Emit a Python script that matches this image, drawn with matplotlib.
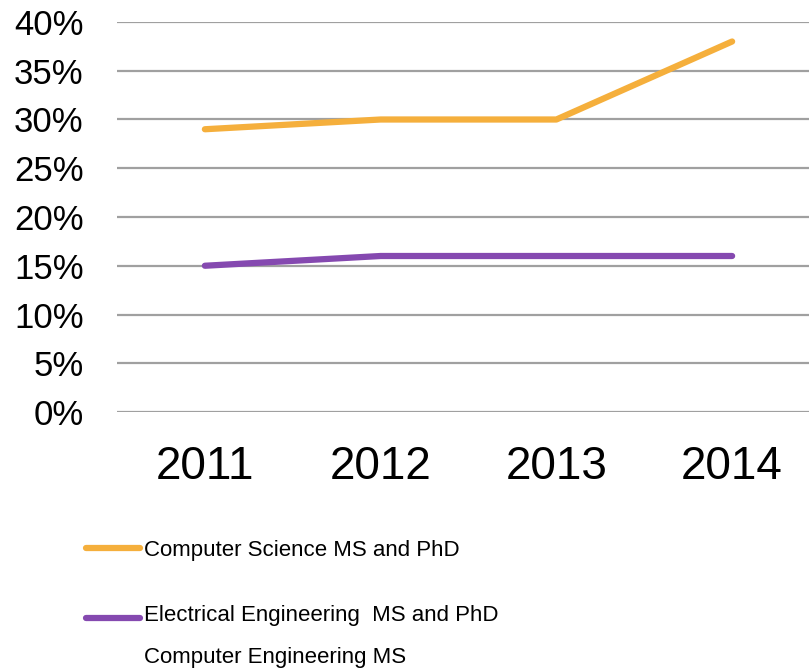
import matplotlib.pyplot as plt

plt.rcParams['font.family'] = ['Liberation Sans', 'DejaVu Sans']

years = ['2011', '2012', '2013', '2014']
cs_share = [0.29, 0.30, 0.30, 0.38]
ee_share = [0.15, 0.16, 0.16, 0.16]
y_ticks = [0.0, 0.05, 0.10, 0.15, 0.20, 0.25, 0.30, 0.35, 0.40]
labels = ['Computer Science MS and PhD',
          'Electrical Engineering  MS and PhD\nComputer Engineering MS']

fig = plt.figure(figsize=(8.09, 6.72), dpi=100)
ax = fig.add_axes([117 / 809, 260 / 672, 703 / 809, 390 / 672])

x = range(len(years))
l1, = ax.plot(x, cs_share, color='#F5AF3C', lw=4.5, solid_capstyle='round')
l2, = ax.plot(x, ee_share, color='#8549B0', lw=4.5, solid_capstyle='round')

ax.set_xlim(-0.5, 3.5)
ax.set_ylim(0, 0.40)
ax.set_yticks(y_ticks)
ax.set_yticklabels([f'{int(round(v * 100))}%' for v in y_ticks])
ax.set_xticks(list(x))
ax.set_xticklabels(years)
ax.tick_params(axis='y', length=0, labelsize=25, pad=24)
ax.tick_params(axis='x', length=0, labelsize=33, pad=24)
ax.grid(axis='y', color='#A0A0A0', lw=1.6)
ax.set_axisbelow(True)
for s in ax.spines.values():
    s.set_visible(False)

leg = fig.legend([l1, l2], labels, loc='upper left',
                 bbox_to_anchor=(77 / 809, 1 - 531 / 672),
                 frameon=False, fontsize=16, handlelength=2.45,
                 handletextpad=0.15, labelspacing=1.97, borderaxespad=0)
txt = leg.get_texts()[1]
txt.set_linespacing(2.32)

# keep the purple handle level with the first line of its label
fig.canvas.draw()
h = leg.legend_handles[1]
tb = txt.get_window_extent()
first_line_y = tb.y1 - tb.height / 2 / 2.0 + 2
hb = h.get_window_extent()
shift_pt = (first_line_y - (hb.y0 + hb.y1) / 2) * 72 / fig.dpi
h.set_ydata([y + shift_pt for y in h.get_ydata()])

fig.savefig('out.png', dpi=100)
